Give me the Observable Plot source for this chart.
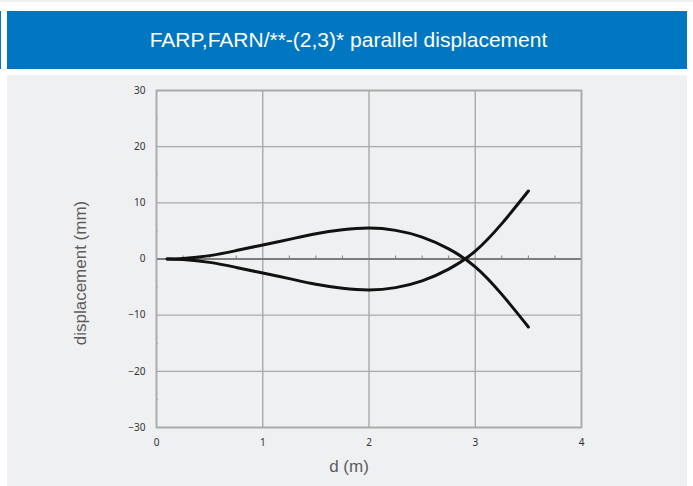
<!DOCTYPE html>
<html>
<head>
<meta charset="utf-8">
<script src="https://cdn.jsdelivr.net/npm/d3@7"></script>
<script src="https://cdn.jsdelivr.net/npm/@observablehq/plot@0.6"></script>
<style>
  html, body { margin: 0; padding: 0; background: #ffffff; }
  body { width: 693px; height: 486px; position: relative; overflow: hidden; }
  #topstrip { position: absolute; left: 0; top: 0; width: 693px; height: 2px; background: #f0f1f1; }
  #edge { position: absolute; left: 0; top: 11px; width: 1px; height: 58px; background: #0077c0; }
  #header { position: absolute; left: 7px; top: 11px; width: 680px; height: 58px; background: #0077c0; }
  #title { position: absolute; left: 0; top: 0; width: 100%; height: 58px; line-height: 58px; text-align: center;
           color: #ffffff; font-family: "Liberation Sans", Arial, sans-serif; font-size: 21px; padding-left: 3px; box-sizing: border-box; }
  #panel { position: absolute; left: 7px; top: 75px; width: 680px; height: 411px; background: #eff0f2; }
  #chart { position: absolute; left: 0; top: 75px; }
  #ylabel { position: absolute; left: 81px; top: 273px; transform: translate(-50%, -50%) rotate(-90deg);
            white-space: nowrap; font-family: "Liberation Sans", Arial, sans-serif; font-size: 17px; color: #5c5c5c; }
</style>
</head>
<body>
<div id="topstrip"></div>
<div id="edge"></div>
<div id="header"><div id="title">FARP,FARN/**-(2,3)* parallel displacement</div></div>
<div id="panel"></div>
<div id="chart"></div>
<div id="ylabel"></div>
<script>
// distance along the member (m)
const dValues = [0.1, 0.25, 0.5, 0.75, 1, 1.25, 1.5, 1.75, 2, 2.25, 2.5, 2.75, 3, 3.25, 3.5];
// displacement of the two curves (mm)
const curveA = [0, 0.1, 0.6, 1.5, 2.5, 3.5, 4.5, 5.2, 5.5, 5.1, 3.9, 1.8, -1.4, -6.3, -12.1];
const curveB = [0, -0.1, -0.6, -1.5, -2.5, -3.5, -4.5, -5.2, -5.5, -5.1, -3.9, -1.8, 1.4, 6.3, 12.1];
// axis ticks
const xTicks = [0, 1, 2, 3, 4];
const yTicks = [-30, -20, -10, 0, 10, 20, 30];
const xMinor = [0.25, 0.5, 0.75, 1.25, 1.5, 1.75, 2.25, 2.5, 2.75, 3.25, 3.5, 3.75];
const yMinor = [-25, -15, -5, 5, 15, 25];
const yTitle = "displacement (mm)";
const xTitle = "d (m)";

document.getElementById("ylabel").textContent = yTitle;

const data = [
  ...dValues.map((d, i) => ({d, v: curveA[i], s: "A"})),
  ...dValues.map((d, i) => ({d, v: curveB[i], s: "B"}))
];

const gridColor = "#a9a9a9";

const chart = Plot.plot({
  width: 693,
  height: 411,
  marginLeft: 156,
  marginRight: 112,
  marginTop: 15,
  marginBottom: 59,
  style: {background: "transparent", fontFamily: "'Noto Sans', sans-serif", fontSize: "10px", color: "#333"},
  x: {domain: [0, 4], ticks: xTicks, tickSize: 0, tickPadding: 11, label: null, tickFormat: d3.format("d")},
  y: {domain: [-30, 30], ticks: yTicks, tickSize: 0, tickPadding: 11, label: null, tickFormat: d3.format("d")},
  marks: [
    Plot.ruleX(xTicks, {stroke: gridColor, strokeWidth: 1.4}),
    Plot.ruleY(yTicks, {stroke: gridColor, strokeWidth: 1.4}),
    Plot.ruleY(yMinor, {x1: 0, x2: 0, insetRight: -2, stroke: gridColor, strokeWidth: 1}),
    Plot.ruleY([0], {stroke: "#7d7d7d", strokeWidth: 2}),
    Plot.ruleX(xMinor, {y1: 0, y2: 0, insetTop: -3, stroke: "#7d7d7d", strokeWidth: 1}),
    Plot.frame({stroke: gridColor, strokeWidth: 1.6}),
    Plot.line(data, {x: "d", y: "v", z: "s", curve: "natural", stroke: "#111", strokeWidth: 3}),
    Plot.text([xTitle], {frameAnchor: "bottom", dx: -20, dy: 44, fontSize: 17,
      fontFamily: "'Liberation Sans', Arial, sans-serif", fill: "#5c5c5c"})
  ]
});
document.getElementById("chart").appendChild(chart);
</script>
</body>
</html>
